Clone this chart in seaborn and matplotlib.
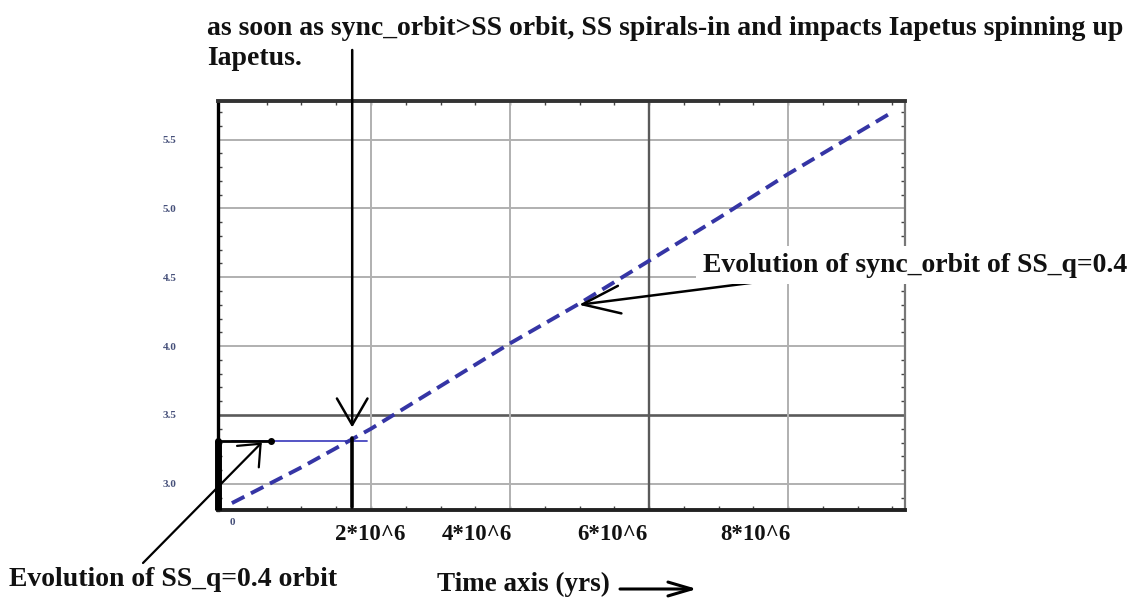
import matplotlib
matplotlib.use("Agg")
import matplotlib.pyplot as plt
import seaborn as sns
import numpy as np

# ---- data -------------------------------------------------------------
# synchronous orbit radius of the SS_q=0.4 system over time
sync_time = [0.0, 1.0e6, 2.0e6, 3.0e6, 4.0e6, 5.0e6, 6.0e6, 7.0e6, 8.0e6, 9.5e6]
sync_orbit = [2.86, 3.12, 3.40, 3.71, 4.02, 4.31, 4.62, 4.93, 5.25, 5.70]

# orbit of the SS_q=0.4 secondary (constant until it spirals in)
ss_time = [0.0, 1.95e6]
ss_orbit = [3.31, 3.31]

# moment the synchronous orbit overtakes the SS orbit
crossing_time = 1.73e6

y_ticks = [3.0, 3.5, 4.0, 4.5, 5.0, 5.5]
y_tick_labels = ["3.0", "3.5", "4.0", "4.5", "5.0", "5.5"]
x_grid = [2e6, 4e6, 6e6, 8e6]
x_label_pos = [1.99e6, 3.53e6, 5.47e6, 7.53e6]
x_label_text = ["2*10^6", "4*10^6", "6*10^6", "8*10^6"]

XMIN, XMAX = -0.2e6, 9.68e6
YMIN, YMAX = 2.81, 5.78

# ---- figure -----------------------------------------------------------
sns.set_theme(style="white")
plt.rcParams["font.family"] = ["Liberation Serif", "DejaVu Serif"]

W, H = 1136, 600
fig = plt.figure(figsize=(W / 100, H / 100), dpi=100)
ax = fig.add_axes([218 / W, 1 - 510 / H, (905 - 218) / W, (510 - 101) / H])


def px(x, y):
    """pixel position (from top-left) to figure fraction"""
    return x / W, 1 - y / H


ax.set_xlim(XMIN, XMAX)
ax.set_ylim(YMIN, YMAX)

# grid
for yv in y_ticks:
    dark = abs(yv - 3.5) < 1e-9
    ax.axhline(yv, color="#5a5a5a" if dark else "#b0b0b0",
               lw=1.9 if dark else 1.4, zorder=1)
for xv in x_grid:
    dark = abs(xv - 6e6) < 1
    ax.axvline(xv, color="#5a5a5a" if dark else "#b0b0b0",
               lw=1.7 if dark else 1.4, zorder=1)

# curves
sns.lineplot(x=sync_time, y=sync_orbit, ax=ax, color="#3535a5", lw=2.8,
             linestyle=(0, (3.6, 1.9)), zorder=4)
sns.lineplot(x=ss_time, y=ss_orbit, ax=ax, color="#4646c0", lw=1.3, zorder=3)

# hand-drawn markings on top of the curves
ax.plot([XMIN, 0.56e6], [ss_orbit[0], ss_orbit[0]], color="black", lw=2.0,
        zorder=5, clip_on=False)
ax.plot([XMIN, 0.56e6], [ss_orbit[0], ss_orbit[0]], ls="none", marker="o",
        ms=4, color="black", zorder=5, clip_on=False)
ax.plot([XMIN, XMIN], [YMIN, ss_orbit[0]], color="black", lw=5, zorder=6,
        clip_on=False, solid_capstyle="butt")
ax.plot([crossing_time, crossing_time], [2.83, ss_orbit[0] + 0.02],
        color="black", lw=2.6, zorder=5)

# axes frame and ticks
for side, col, lw in [("left", "black", 2.4), ("bottom", "#222222", 2.8),
                      ("top", "#333333", 2.8), ("right", "#777777", 1.6)]:
    ax.spines[side].set_visible(True)
    ax.spines[side].set_color(col)
    ax.spines[side].set_linewidth(lw)

ax.set_yticks(y_ticks)
ax.set_yticklabels(y_tick_labels, fontsize=8, color="#46507a",
                   fontweight="bold")
ax.set_xticks([0])
ax.set_xticklabels(["0"], fontsize=8, color="#46507a", fontweight="bold")
ax.set_yticks(np.arange(2.9, 5.8, 0.1), minor=True)
ax.set_xticks(np.arange(0, 9.6e6, 0.5e6), minor=True)
ax.tick_params(axis="y", which="major", direction="in", length=0, pad=30)
ax.tick_params(axis="x", which="major", direction="in", length=0, pad=6)
ax.tick_params(which="minor", direction="in", length=3, width=1,
               color="#444444", top=True, right=True, bottom=True, left=True)
ax.tick_params(which="major", left=True, bottom=True)
ax.set_xlabel("")
ax.set_ylabel("")

# bold serif labels under the time axis
for xp, txt in zip(x_label_pos, x_label_text):
    ax.text(xp, -0.06, txt, transform=ax.get_xaxis_transform(),
            ha="center", va="center", fontsize=16.5, fontweight="bold",
            color="#111111")

# annotations
bold = dict(fontweight="bold", color="#111111")
fig.text(*px(207, 16), "as soon as sync_orbit>SS orbit, SS spirals-in and "
         "impacts Iapetus spinning up\nIapetus.", ha="left", va="top",
         fontsize=20, linespacing=1.25, **bold)

fig.text(*px(703, 265), "Evolution of sync_orbit of SS_q=0.4", ha="left",
         va="center", fontsize=20, zorder=10,
         bbox=dict(facecolor="white", edgecolor="none", pad=5), **bold)

fig.text(*px(9, 579), "Evolution of SS_q=0.4 orbit", ha="left",
         va="center", fontsize=20, **bold)

fig.text(*px(437, 584), "Time axis (yrs)", ha="left", va="center",
         fontsize=19.5, **bold)

ax.annotate("", xy=(crossing_time, 3.41), xycoords="data",
            xytext=(crossing_time, 1 - 50 / H),
            textcoords=("data", "figure fraction"),
            arrowprops=dict(arrowstyle="->,head_length=19,head_width=11",
                            mutation_scale=1, color="black", lw=1.8,
                            shrinkA=0, shrinkB=0))
ax.annotate("", xy=(4.99e6, 4.30), xycoords="data",
            xytext=px(758, 282), textcoords="figure fraction",
            arrowprops=dict(arrowstyle="->,head_length=27,head_width=10",
                            mutation_scale=1, color="black", lw=1.8,
                            shrinkA=0, shrinkB=0), zorder=11)
ax.annotate("", xy=(0.43e6, 3.30), xycoords="data",
            xytext=px(143, 563), textcoords="figure fraction",
            arrowprops=dict(arrowstyle="->,head_length=13,head_width=11",
                            mutation_scale=1, color="black", lw=1.6,
                            shrinkA=0, shrinkB=0))
fig.patches.append(matplotlib.patches.FancyArrowPatch(
    px(620, 589), px(697, 589), transform=fig.transFigure,
    arrowstyle="->,head_length=17,head_width=5", mutation_scale=1,
    color="black", lw=2.2, shrinkA=0, shrinkB=0))

fig.savefig("out.png", dpi=100, facecolor="white")
